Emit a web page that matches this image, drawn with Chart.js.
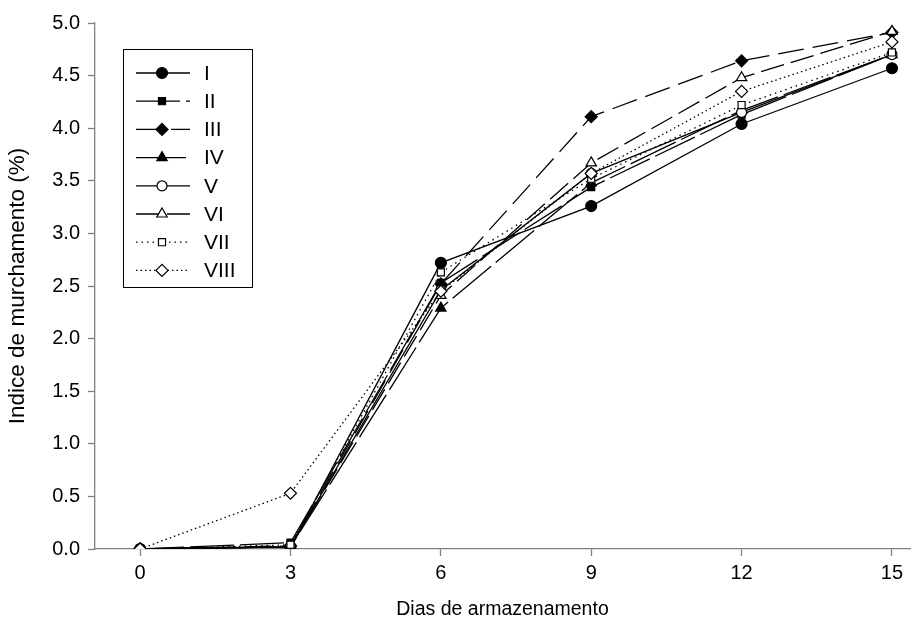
<!DOCTYPE html>
<html>
<head>
<meta charset="utf-8">
<script src="https://cdn.jsdelivr.net/npm/chart.js@4/dist/chart.umd.min.js"></script>
<style>
  html, body { margin: 0; padding: 0; background: #fff; }
  #wrap { width: 922px; height: 625px; position: relative; }
</style>
</head>
<body>
<div id="wrap"><canvas id="chartContainer"></canvas></div>
<script>
// storage days (x axis)
const dias = [0, 3, 6, 9, 12, 15];
const xTicks = [0, 3, 6, 9, 12, 15];
const yTicks = [0, 0.5, 1, 1.5, 2, 2.5, 3, 3.5, 4, 4.5, 5];

// wilting index per treatment
const serieI    = [0, 0.02, 2.72, 3.26, 4.04, 4.57];
const serieII   = [0, 0.06, 2.53, 3.44, 4.13, 4.70];
const serieIII  = [0, 0.03, 2.52, 4.11, 4.64, 4.91];
const serieIV   = [0, 0.02, 2.29, 3.48, 4.17, 4.70];
const serieV    = [0, 0.02, 2.46, 3.57, 4.15, 4.70];
const serieVI   = [0, 0.02, 2.41, 3.67, 4.48, 4.92];
const serieVII  = [0, 0.04, 2.63, 3.52, 4.22, 4.72];
const serieVIII = [0, 0.53, 2.45, 3.57, 4.35, 4.82];

const labels = ['I', 'II', 'III', 'IV', 'V', 'VI', 'VII', 'VIII'];
const values = [serieI, serieII, serieIII, serieIV, serieV, serieVI, serieVII, serieVIII];

const FONT = '"Liberation Sans", Arial, sans-serif';

const styles = [
    { pointStyle: 'circle',   radius: 5.5, fill: '#000', dash: [] },
    { pointStyle: 'rect',     radius: 5,   fill: '#000', dash: [44, 6] },
    { pointStyle: 'rectRot',  radius: 6,   fill: '#000', dash: [26, 9] },
    { pointStyle: 'triangle', radius: 6,   fill: '#000', dash: [50, 6] },
    { pointStyle: 'circle',   radius: 5,   fill: '#fff', dash: [] },
    { pointStyle: 'triangle', radius: 6,   fill: '#fff', dash: [24, 7] },
    { pointStyle: 'rect',     radius: 5,   fill: '#fff', dash: [1.5, 4] },
    { pointStyle: 'rectRot',  radius: 6,   fill: '#fff', dash: [1.5, 3] }
];

function toPoints(serie) {
    return serie.map((y, i) => ({ x: dias[i], y: y }));
}

const datasets = values.map((serie, i) => ({
    label: labels[i],
    data: toPoints(serie),
    borderColor: '#000',
    borderWidth: 1.3,
    borderDash: styles[i].dash,
    backgroundColor: styles[i].fill,
    pointStyle: styles[i].pointStyle,
    pointRadius: styles[i].radius,
    pointBackgroundColor: styles[i].fill,
    pointBorderColor: '#000',
    pointBorderWidth: 1.2,
    tension: 0,
    fill: false,
    order: labels.length - i
}));

// legend box drawn by hand so the line style and marker show together
const boxLegend = {
    id: 'boxLegend',
    afterDraw(chart) {
        const ctx = chart.ctx;
        const left = 123, top = 49, width = 129, height = 238;
        ctx.save();
        ctx.strokeStyle = '#000';
        ctx.lineWidth = 1;
        ctx.strokeRect(left + 0.5, top + 0.5, width, height);
        ctx.font = '21px ' + FONT;
        ctx.textBaseline = 'middle';
        ctx.textAlign = 'left';
        labels.forEach((lab, i) => {
            const y = 73 + i * 28.2;
            ctx.beginPath();
            ctx.setLineDash(styles[i].dash);
            ctx.lineWidth = 1.3;
            ctx.strokeStyle = '#000';
            ctx.moveTo(136, y);
            ctx.lineTo(190, y);
            ctx.stroke();
            ctx.setLineDash([]);
            ctx.fillStyle = styles[i].fill;
            ctx.lineWidth = 1.2;
            Chart.helpers.drawPoint(ctx, {
                pointStyle: styles[i].pointStyle,
                radius: styles[i].radius,
                rotation: 0,
                borderWidth: 1.2
            }, 162, y);
            ctx.fillStyle = '#000';
            ctx.fillText(lab, 204, y + 1);
        });
        ctx.restore();
    }
};

const ctx = document.getElementById('chartContainer');
window.myChart = new Chart(ctx, {
    type: 'line',
    data: { datasets: datasets },
    plugins: [boxLegend],
    options: {
        responsive: true,
        maintainAspectRatio: false,
        animation: false,
        layout: { padding: { left: 0, right: 12, top: 23, bottom: 0 } },
        plugins: {
            legend: { display: false },
            tooltip: { enabled: false }
        },
        scales: {
            x: {
                type: 'linear',
                min: -0.9,
                max: 15.36,
                afterBuildTicks: (scale) => { scale.ticks = xTicks.map(v => ({ value: v })); },
                afterFit: (scale) => { scale.height = 76; },
                grid: { drawOnChartArea: false, drawTicks: true, tickLength: 7, color: '#808080', tickWidth: 1.3 },
                border: { display: true, color: '#808080', width: 1.3 },
                ticks: {
                    color: '#000',
                    padding: 5,
                    font: { family: FONT, size: 20 },
                    callback: (v) => String(v)
                },
                title: {
                    display: true,
                    text: 'Dias de armazenamento',
                    color: '#000',
                    font: { family: FONT, size: 19.5 },
                    padding: { top: 6 }
                }
            },
            y: {
                type: 'linear',
                min: 0,
                max: 5,
                afterBuildTicks: (scale) => { scale.ticks = yTicks.map(v => ({ value: v })); },
                afterFit: (scale) => { scale.width = 95; },
                grid: { drawOnChartArea: false, drawTicks: true, tickLength: 7, color: '#808080', tickWidth: 1.3 },
                border: { display: true, color: '#808080', width: 1.3 },
                ticks: {
                    color: '#000',
                    padding: 8,
                    font: { family: FONT, size: 20 },
                    callback: (v) => Number(v).toFixed(1)
                },
                title: {
                    display: true,
                    text: 'Indice de murchamento (%)',
                    color: '#000',
                    font: { family: FONT, size: 22.5 },
                    padding: { bottom: 4 }
                }
            }
        }
    }
});
</script>
</body>
</html>
